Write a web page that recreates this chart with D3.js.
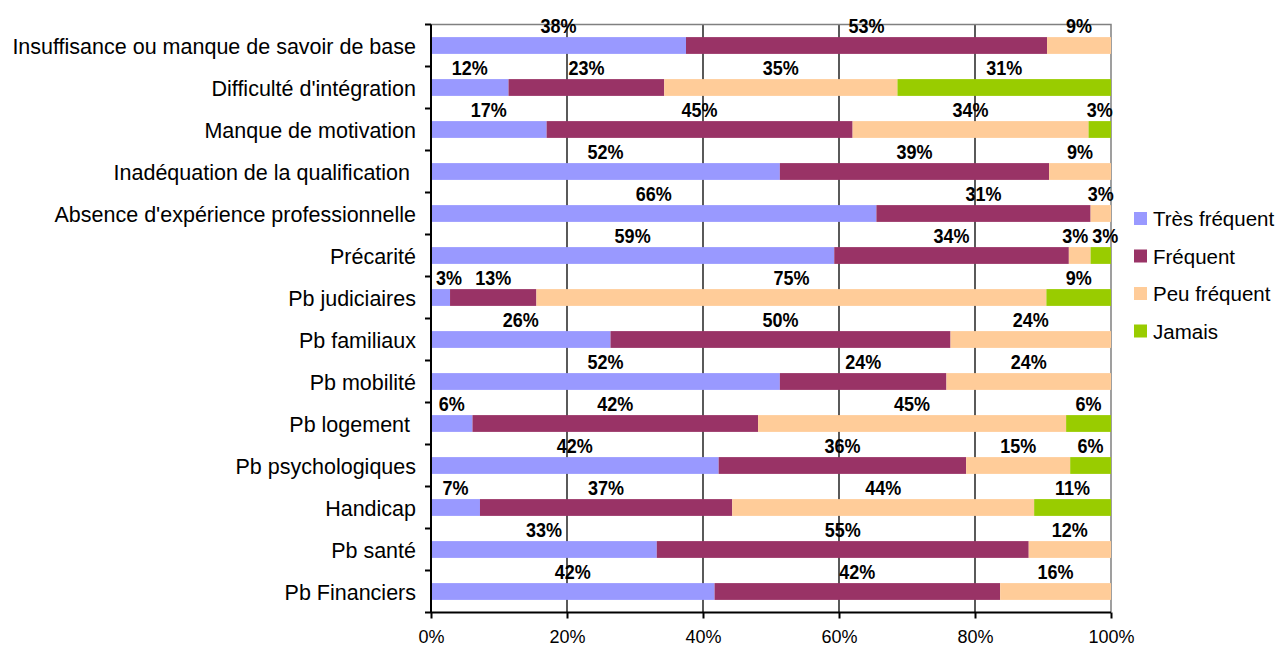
<!DOCTYPE html>
<html>
<head>
    <meta charset="utf-8">
    <script src="https://cdn.jsdelivr.net/npm/d3@7"></script>
    <style>
        body { margin: 0; background: white; }
        text { font-family: Arial, "Liberation Sans", sans-serif; }
    </style>
</head>
<body>
   <script>
        var categories = ["Insuffisance ou manque de savoir de base", "Difficulté d'intégration", "Manque de motivation",
            "Inadéquation de la qualification ", "Absence d'expérience professionnelle", "Précarité", "Pb judiciaires",
            "Pb familiaux", "Pb mobilité", "Pb logement ", "Pb psychologiques", "Handicap", "Pb santé", "Pb Financiers"];
        var series = ["Très fréquent", "Fréquent", "Peu fréquent", "Jamais"];
        var colors = ["#9999ff", "#993366", "#ffcc99", "#99cc00"];

        // bar lengths (%)
        var tresFrequent = [37.5, 11.4, 17.0, 51.3, 65.5, 59.3, 2.8, 26.4, 51.3, 6.1, 42.3, 7.2, 33.2, 41.7];
        var frequent     = [53.1, 22.9, 45.0, 39.6, 31.5, 34.5, 12.7, 50.0, 24.5, 42.0, 36.4, 37.1, 54.7, 42.0];
        var peuFrequent  = [9.4, 34.3, 34.7, 9.1, 3.0, 3.2, 75.0, 23.6, 24.2, 45.3, 15.3, 44.4, 12.1, 16.3];
        var jamais       = [0, 31.4, 3.3, 0, 0, 3.0, 9.5, 0, 0, 6.6, 6.0, 11.3, 0, 0];

        // labels as printed on the chart
        var lblTres  = [38, 12, 17, 52, 66, 59, 3, 26, 52, 6, 42, 7, 33, 42];
        var lblFreq  = [53, 23, 45, 39, 31, 34, 13, 50, 24, 42, 36, 37, 55, 42];
        var lblPeu   = [9, 35, 34, 9, 3, 3, 75, 24, 24, 45, 15, 44, 12, 16];
        var lblJam   = [null, 31, 3, null, null, 3, 9, null, null, 6, 6, 11, null, null];

        var xTicks = [0, 20, 40, 60, 80, 100];

        var values = [tresFrequent, frequent, peuFrequent, jamais];
        var labels = [lblTres, lblFreq, lblPeu, lblJam];

        var mLeft = 431, mRight = 1111, mTop = 24.5, mBottom = 612.5;

        var svg = d3.select("body")
            .append("svg")
            .attr("width", 1282)
            .attr("height", 648);

        var x = d3.scaleLinear().domain([0, 100]).range([mLeft, mRight]);
        var y = d3.scaleBand().domain(categories).range([mTop, mBottom])
            .paddingInner(0.6).paddingOuter(0.3);
        var step = y.step();

        // gridlines
        svg.append("g")
            .selectAll("line")
            .data(xTicks.slice(1, 5))
            .enter()
            .append("line")
            .attr("x1", function (d) { return x(d); })
            .attr("x2", function (d) { return x(d); })
            .attr("y1", mTop)
            .attr("y2", mBottom)
            .style("stroke", "#000")
            .style("stroke-width", 1.3);

        // plot border top/right
        svg.append("path")
            .attr("d", "M" + mLeft + "," + mTop + "H" + mRight + "V" + mBottom)
            .style("fill", "none")
            .style("stroke", "#808080")
            .style("stroke-width", 1.5);

        // stacked bars
        var stacks = [];
        categories.forEach(function (c, i) {
            var acc = 0;
            values.forEach(function (v, s) {
                stacks.push({ cat: c, row: i, s: s, x0: acc, x1: acc + v[i], lbl: labels[s][i] });
                acc += v[i];
            });
        });

        svg.append("g")
            .selectAll("rect")
            .data(stacks.filter(function (d) { return d.x1 > d.x0; }))
            .enter()
            .append("rect")
            .attr("x", function (d) { return x(d.x0); })
            .attr("width", function (d) { return x(d.x1) - x(d.x0); })
            .attr("y", function (d) { return y(d.cat); })
            .attr("height", y.bandwidth())
            .style("fill", function (d) { return colors[d.s]; });

        // data labels above the bars
        var lbls = stacks.filter(function (d) { return d.lbl != null; });
        lbls.forEach(function (d) { d.cx = x((d.x0 + d.x1) / 2); });
        var labelSel = svg.append("g")
            .selectAll("text")
            .data(lbls)
            .enter()
            .append("text")
            .attr("text-anchor", "middle")
            .style("font-size", "20px")
            .style("font-weight", "bold")
            .text(function (d) { return d.lbl + "%"; });

        // keep labels off the axis and off each other (like Excel does)
        labelSel.each(function (d) { d.w = this.getComputedTextLength() * 0.9; });
        d3.range(categories.length).forEach(function (r) {
            var row = lbls.filter(function (d) { return d.row === r; });
            if (row[0].cx - row[0].w / 2 < mLeft + 5) row[0].cx = mLeft + 5 + row[0].w / 2;
            for (var k = 1; k < row.length; k++) {
                var a = row[k - 1], b = row[k];
                var gap = (b.cx - b.w / 2) - (a.cx + a.w / 2) - 4;
                if (gap < 0) { a.cx += gap / 2; b.cx -= gap / 2; }
            }
        });
        labelSel.attr("transform", function (d) {
            return "translate(" + d.cx + "," + (y(d.cat) - 4) + ") scale(0.9,1)";
        });

        // left axis
        svg.append("line")
            .attr("x1", mLeft).attr("x2", mLeft)
            .attr("y1", mTop).attr("y2", mBottom)
            .style("stroke", "#000").style("stroke-width", 2);
        svg.append("g")
            .selectAll("line")
            .data(d3.range(categories.length + 1))
            .enter()
            .append("line")
            .attr("x1", mLeft - 6).attr("x2", mLeft)
            .attr("y1", function (d) { return mTop + d * step; })
            .attr("y2", function (d) { return mTop + d * step; })
            .style("stroke", "#000").style("stroke-width", 2);
        svg.append("g")
            .selectAll("text")
            .data(categories)
            .enter()
            .append("text")
            .attr("x", 416)
            .attr("y", function (d) { return y(d) + y.bandwidth() / 2 + 1; })
            .attr("dy", "0.35em")
            .attr("text-anchor", "end")
            .style("font-size", "21.5px")
            .style("white-space", "pre")
            .text(function (d) { return d; });

        // bottom axis
        var xAxis = d3.axisBottom(x)
            .tickValues(xTicks)
            .tickFormat(function (d) { return d + "%"; })
            .tickSize(6)
            .tickPadding(12)
            .tickSizeOuter(0);
        var gx = svg.append("g")
            .attr("transform", "translate(0," + mBottom + ")")
            .call(xAxis);
        gx.select(".domain").style("stroke-width", 2).attr("d", "M" + mLeft + ",0H" + mRight);
        gx.selectAll(".tick line").style("stroke-width", 2);
        gx.selectAll("text")
            .style("font-size", "18px")
            .style("font-family", "Arial, 'Liberation Sans', sans-serif")
            .style("fill", "#000");

        // legend
        var legend = svg.append("g")
            .selectAll("g")
            .data(series)
            .enter()
            .append("g")
            .attr("transform", function (d, i) { return "translate(1134," + (212 + i * 37.5) + ")"; });
        legend.append("rect")
            .attr("width", 13).attr("height", 13)
            .style("fill", function (d, i) { return colors[i]; });
        legend.append("text")
            .attr("x", 19)
            .attr("y", 14)
            .style("font-size", "20.5px")
            .text(function (d) { return d; });
    </script>
</body>
</html>
